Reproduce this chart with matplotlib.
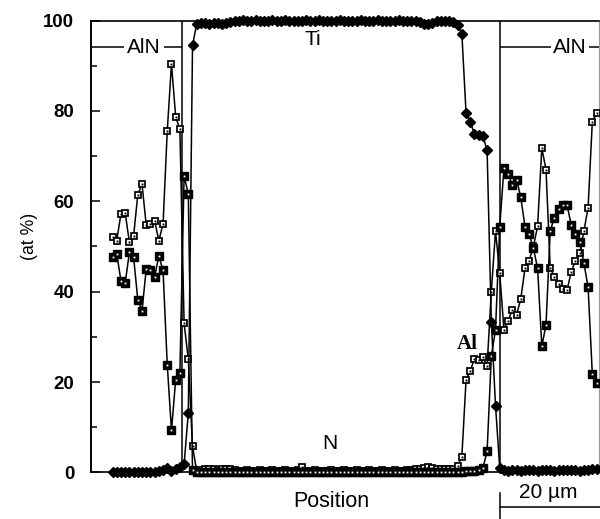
import numpy as np
import matplotlib.pyplot as plt

plt.rcParams['font.family'] = ['Liberation Sans', 'DejaVu Sans']

# line scan across AlN / Ti / AlN, concentration in at %
ti = [0.2, 0.1, 0.2, 0.1, 0.2, 0.2, 0.1, 0.2, 0.1, 0.2,
      0.2, 0.3, 0.5, 0.9, 0.4, 0.8, 1.2, 1.8, 13.2, 94.5,
      99.3, 99.4, 99.4, 99.3, 99.4, 99.4, 99.3, 99.4, 99.6, 99.9,
      100.0, 100.1, 100.0, 100.0, 100.1, 100.0, 99.9, 100.0, 100.1, 100.0,
      100.0, 100.1, 100.0, 99.9, 100.0, 100.0, 100.1, 100.0, 100.0, 100.1,
      100.0, 99.9, 100.0, 100.0, 100.1, 100.0, 100.0, 99.9, 100.0, 100.1,
      100.0, 100.0, 100.0, 100.1, 100.0, 99.9, 100.0, 100.0, 100.1, 100.0,
      100.0, 99.9, 99.8, 99.6, 99.3, 99.3, 99.4, 99.9, 100.0, 99.9,
      99.9, 99.6, 99.0, 97.1, 79.5, 77.6, 74.8, 74.6, 74.4, 71.3,
      33.4, 14.8, 1.0, 0.6, 0.4, 0.5, 0.6, 0.4, 0.5, 0.5,
      0.6, 0.4, 0.5, 0.6, 0.5, 0.4, 0.6, 0.5, 0.5, 0.6,
      0.5, 0.4, 0.6, 0.5, 0.7, 0.8]

al = [52.2, 51.3, 57.3, 57.5, 50.9, 52.3, 61.5, 63.8, 54.7, 55.0,
      55.7, 51.3, 55.0, 75.6, 90.4, 78.7, 75.9, 33.0, 25.1, 5.8,
      0.3, 0.6, 0.7, 0.8, 0.7, 0.6, 0.7, 0.8, 0.7, 0.5,
      0.4, 0.4, 0.5, 0.4, 0.4, 0.5, 0.4, 0.4, 0.5, 0.4,
      0.4, 0.5, 0.4, 0.4, 0.6, 1.2, 0.4, 0.4, 0.5, 0.4,
      0.4, 0.4, 0.5, 0.4, 0.4, 0.5, 0.4, 0.4, 0.5, 0.4,
      0.4, 0.5, 0.4, 0.4, 0.5, 0.4, 0.4, 0.5, 0.4, 0.4,
      0.5, 0.6, 0.7, 0.8, 0.9, 1.2, 0.9, 0.7, 0.8, 0.8,
      0.7, 0.8, 1.5, 3.5, 20.5, 22.5, 25.2, 24.9, 25.5, 23.6,
      40.0, 53.4, 44.1, 31.6, 33.6, 36.0, 34.9, 38.4, 45.2, 46.9,
      50.0, 54.5, 71.8, 67.0, 45.2, 43.3, 41.6, 40.5, 40.4, 44.4,
      46.9, 48.5, 53.4, 58.6, 77.6, 79.5]

nit = [47.6, 48.3, 42.4, 41.9, 48.7, 47.6, 38.2, 35.8, 45.0, 44.8,
       43.3, 47.9, 44.7, 23.8, 9.3, 20.5, 22.1, 65.6, 61.6, 0.5,
       0.2, 0.1, 0.1, 0.0, 0.1, 0.0, 0.1, 0.0, 0.1, 0.0,
       0.1, 0.0, 0.1, 0.0, 0.1, 0.0, 0.1, 0.0, 0.1, 0.0,
       0.1, 0.0, 0.1, 0.0, 0.1, 0.0, 0.1, 0.0, 0.1, 0.0,
       0.1, 0.0, 0.1, 0.0, 0.1, 0.0, 0.1, 0.0, 0.1, 0.0,
       0.1, 0.0, 0.1, 0.0, 0.1, 0.0, 0.1, 0.0, 0.1, 0.0,
       0.1, 0.0, 0.1, 0.0, 0.1, 0.0, 0.1, 0.0, 0.1, 0.0,
       0.1, 0.1, 0.2, 0.2, 0.3, 0.3, 0.4, 0.5, 1.0, 4.7,
       25.7, 31.6, 54.4, 67.3, 66.0, 63.6, 64.8, 60.9, 54.4, 52.7,
       49.6, 45.2, 27.9, 32.7, 53.5, 56.4, 58.2, 59.2, 59.2, 54.7,
       52.7, 51.1, 46.3, 41.0, 21.8, 19.8]

start_um = 4.35     # first scan point
step_um = 0.85      # scan step
x = start_um + step_um * np.arange(len(ti))

interfaces = [18.4, 82.6]   # AlN/Ti boundaries (um)
x_max = 102.5
bar_um = 20

fig = plt.figure(figsize=(6.0, 5.19), dpi=100)
ax = fig.add_axes([0.1517, 0.0896, 0.8458, 0.8709])

# Al: open squares with a dot
ax.plot(x, al, '-', color='k', lw=1.1, marker='s', ms=5, mfc='white',
        mec='k', mew=1.25, clip_on=False, zorder=3)
ax.plot(x, al, ls='none', marker='s', ms=1.4, mfc='k', mec='none',
        clip_on=False, zorder=3.1)
# N: filled squares with a white dot
ax.plot(x, nit, '-', color='k', lw=1.1, marker='s', ms=5.2, mfc='k',
        mec='k', mew=1.0, clip_on=False, zorder=4)
ax.plot(x, nit, ls='none', marker='s', ms=1.3, mfc='white', mec='none',
        clip_on=False, zorder=4.1)
# Ti: filled diamonds
ax.plot(x, ti, '-', color='k', lw=1.1, marker='D', ms=4.8, mfc='k',
        mec='k', clip_on=False, zorder=5)

for xi in interfaces:
    ax.axvline(xi, color='k', lw=1.1, zorder=2)

# region labels
ax.hlines(94.1, 0, interfaces[0], color='k', lw=1.1, zorder=1)
ax.hlines(94.1, interfaces[1], x_max, color='k', lw=1.1, zorder=1)
ax.text(10.7, 94.1, 'AlN', ha='center', va='center', fontsize=15,
        bbox=dict(fc='white', ec='none', pad=2.5), zorder=2)
ax.text(96.8, 94.1, 'AlN', ha='center', va='center', fontsize=15,
        bbox=dict(fc='white', ec='none', pad=1.5), zorder=2)
ax.text(44.8, 95.7, 'Ti', ha='center', va='center', fontsize=15)
ax.text(48.2, 6.4, 'N', ha='center', va='center', fontsize=15)
ax.text(75.9, 28.5, 'Al', ha='center', va='center', fontsize=15,
        family='Liberation Serif', weight='bold')

ax.set_xlim(0, x_max)
ax.set_ylim(0, 100)
ax.set_xticks([])
ax.set_yticks(range(0, 101, 20))
ax.set_yticks(range(10, 100, 20), minor=True)
ax.tick_params(axis='y', which='major', direction='in', length=6.5,
               width=1.1, labelsize=13.4, pad=12)
ax.tick_params(axis='y', which='minor', direction='in', length=4.3, width=1.1)
for lab in ax.get_yticklabels():
    lab.set_fontweight('bold')

ax.spines['left'].set_linewidth(1.4)
ax.spines['top'].set_linewidth(1.2)
ax.spines['bottom'].set_linewidth(1.2)
ax.spines['right'].set_color('#999999')
ax.spines['right'].set_linewidth(0.8)

ax.text(-0.121, 0.522, '(at %)', transform=ax.transAxes, rotation=90,
        ha='center', va='center', fontsize=12.7)
ax.text(48.6, -6.4, 'Position', ha='center', va='center', fontsize=15.5,
        clip_on=False)

# scale bar
x0 = interfaces[1]
ax.plot([x0, x0 + bar_um + 1], [-7.6, -7.6], color='k', lw=1.1, clip_on=False)
ax.plot([x0, x0], [-4.5, -10.5], color='k', lw=1.1, clip_on=False)
ax.text(x0 + bar_um / 2 - 0.2, -4.4, '20 \u00b5m', ha='center', va='center',
        fontsize=15, clip_on=False)

fig.savefig('out.png', dpi=100)
